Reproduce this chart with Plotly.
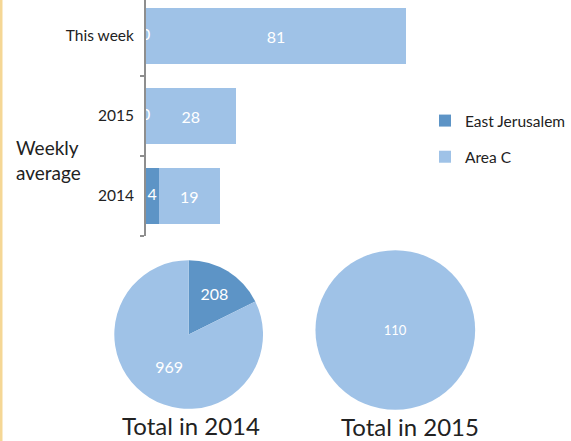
import plotly.graph_objects as go

# ---- data ----
categories = ["2014", "2015", "This week"]
east_jerusalem = [4, 0, 0]
area_c = [19, 28, 81]
series_names = ["East Jerusalem", "Area C"]
total_2014 = [208, 969]
total_2015 = [0, 110]
pie_titles = ["Total in 2014", "Total in 2015"]

C_EJ = "#5D94C6"
C_AC = "#9FC2E7"
FONT = "Lato"
W, H = 571, 441

def px_x(p):
    return p / W

def px_y(p):
    return 1 - p / H

fig = go.Figure()

fig.add_trace(go.Bar(
    y=categories, x=east_jerusalem, orientation="h", name=series_names[0],
    marker=dict(color=C_EJ, line=dict(width=0)), width=0.69,
    legendgroup="a", hoverinfo="skip",
))
fig.add_trace(go.Bar(
    y=categories, x=area_c, orientation="h", name=series_names[1],
    marker=dict(color=C_AC, line=dict(width=0)), width=0.69,
    text=area_c, textposition="inside", insidetextanchor="middle",
    textangle=0, constraintext="none",
    textfont=dict(color="white", size=16, family=FONT),
    legendgroup="b", hoverinfo="skip",
))
# East Jerusalem labels (centered on segment; zero values sit on the axis)
fig.add_trace(go.Scatter(
    y=categories, x=[v / 2 for v in east_jerusalem], mode="text",
    text=[str(v) for v in east_jerusalem],
    textfont=dict(color="white", size=16, family=FONT),
    cliponaxis=True, showlegend=False, hoverinfo="skip",
))

# pies
fig.add_trace(go.Pie(
    labels=series_names, values=total_2014, sort=False, direction="clockwise",
    rotation=0, marker=dict(colors=[C_EJ, C_AC], line=dict(width=0)),
    textinfo="value", textposition="inside", insidetextorientation="horizontal",
    textfont=dict(color="white", size=16, family=FONT),
    domain=dict(x=[px_x(114.5), px_x(263.5)], y=[px_y(409), px_y(260)]),
    showlegend=False, hoverinfo="skip",
))
fig.add_trace(go.Pie(
    labels=series_names, values=total_2015, sort=False, direction="clockwise",
    rotation=0, marker=dict(colors=[C_EJ, C_AC], line=dict(width=0)),
    textinfo="value", textposition="inside", insidetextorientation="horizontal",
    textfont=dict(color="white", size=13, family=FONT),
    domain=dict(x=[px_x(316), px_x(476)], y=[px_y(410), px_y(250)]),
    showlegend=False, hoverinfo="skip",
))

ppu = 261 / 81.0  # pixels per unit
x0 = 146
x1 = 0.77 * W
fig.update_layout(
    width=W, height=H,
    margin=dict(l=0, r=0, t=0, b=0),
    paper_bgcolor="white", plot_bgcolor="white",
    barmode="stack",
    font=dict(family=FONT, color="#222222"),
    xaxis=dict(domain=[px_x(x0), px_x(x1)], range=[0, (x1 - x0) / ppu],
               visible=False, fixedrange=True),
    yaxis=dict(domain=[px_y(236), 1], type="category",
               categoryorder="array", categoryarray=categories,
               range=[-0.5, 2.45], showline=True, linecolor="#8E8E8E",
               linewidth=1.5, ticks="outside", tickson="boundaries",
               ticklen=4, tickcolor="#8E8E8E", tickwidth=1.5,
               showgrid=False, zeroline=False,
               tickfont=dict(size=15.5, family=FONT, color="#222222"),
               ticklabelstandoff=7),
    legend=dict(x=px_x(426), y=px_y(104), xanchor="left", yanchor="top",
                font=dict(size=15.5, family=FONT, color="#222222"),
                tracegroupgap=13, bgcolor="rgba(0,0,0,0)"),
    showlegend=True,
    annotations=[
        dict(text="Weekly<br>average", x=px_x(14), y=px_y(160), xref="paper",
             yref="paper", xanchor="left", yanchor="middle", showarrow=False,
             align="left", font=dict(size=19, family=FONT, color="#222222")),
        dict(text=pie_titles[0], x=px_x(191), y=px_y(425), xref="paper",
             yref="paper", xanchor="center", yanchor="middle", showarrow=False,
             font=dict(size=24, family=FONT, color="#222222")),
        dict(text=pie_titles[1], x=px_x(411), y=px_y(426), xref="paper",
             yref="paper", xanchor="center", yanchor="middle", showarrow=False,
             font=dict(size=24, family=FONT, color="#222222")),
    ],
    shapes=[
        dict(type="rect", xref="paper", yref="paper", x0=0, x1=px_x(2.5),
             y0=0, y1=1, fillcolor="#F5D795", line=dict(width=0)),
    ],
)

fig.write_html(
    "out.html",
    config=dict(displayModeBar=False),
    post_script="document.body.style.margin='0';document.body.style.overflow='hidden';",
)
